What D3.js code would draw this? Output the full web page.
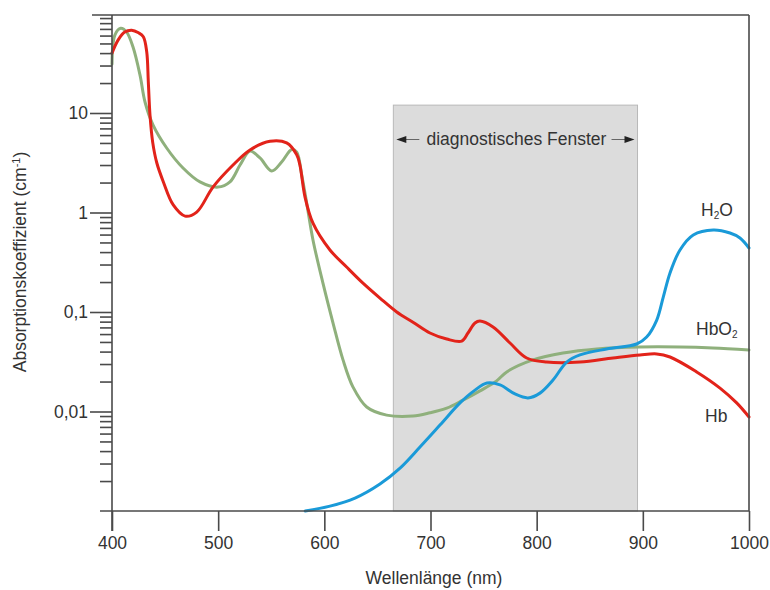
<!DOCTYPE html>
<html>
<head>
<meta charset="utf-8">
<script src="https://cdn.jsdelivr.net/npm/d3@7/dist/d3.min.js"></script>
<style>
  html, body { margin: 0; padding: 0; background: #fff; }
  svg { display: block; font-family: "Liberation Sans", Arial, sans-serif; }
</style>
</head>
<body>
<svg id="chart" width="770" height="590"></svg>
<script>
// ---- Data ----
const hbNm  = [400, 405.7, 412, 418.5, 425, 429.5, 432.7, 434.2, 435.8, 438.3, 442.1, 448.3, 457.7, 468.8, 479.8, 495.1, 514, 530, 548.8, 564.5, 574, 577, 581.8, 589.3, 605.3, 621, 636.4, 652.4, 668.2, 683.5, 699.5, 715.3, 729.4, 735.3, 741.9, 746.6, 758.9, 774.9, 790.6, 809.5, 840.8, 871.9, 897.3, 913.1, 925.6, 950.7, 972.7, 988.4, 1000];
const hbVal = [40, 54, 65, 68, 64, 58.5, 41.3, 20.6, 9.5, 5.1, 3.18, 2.04, 1.19, 0.92, 1.01, 1.80, 3.0, 4.25, 5.2, 5.0, 3.8, 3.0, 1.43, 0.78, 0.42, 0.283, 0.195, 0.138, 0.10, 0.079, 0.0615, 0.0535, 0.051, 0.0615, 0.0775, 0.081, 0.0707, 0.0488, 0.0345, 0.0314, 0.0314, 0.0345, 0.037, 0.0379, 0.0353, 0.025, 0.0172, 0.0122, 0.0088];

const hbo2Nm  = [400, 402.8, 408.2, 413.8, 419.8, 426.4, 431.1, 438.6, 451.5, 466.9, 482.9, 499.8, 511.1, 520.6, 530, 539.4, 550.4, 559.8, 569.3, 574, 578.7, 583.4, 589.3, 598.7, 608.2, 617.6, 627, 639.9, 658.7, 683.5, 699.5, 715.3, 730.6, 746.6, 762.3, 771.8, 796.5, 824.8, 856.5, 897.3, 935, 966, 1000];
const hbo2Val = [31, 61, 71, 65, 46, 24, 12.9, 7.6, 4.45, 2.8, 2.03, 1.80, 2.03, 3.0, 4.15, 3.53, 2.61, 3.22, 4.3, 4.05, 2.38, 1.24, 0.53, 0.195, 0.0775, 0.033, 0.0176, 0.0111, 0.0092, 0.0090, 0.0097, 0.0108, 0.0130, 0.0161, 0.0203, 0.025, 0.033, 0.0387, 0.0425, 0.0445, 0.0445, 0.0435, 0.0415];

const h2oNm  = [582, 605.3, 628.9, 652.4, 671.3, 690.1, 708.9, 727.8, 741.9, 753.2, 765.5, 779.6, 791.8, 803.1, 815.4, 828.3, 840.8, 865.9, 894.2, 903.6, 913.1, 919.3, 925.6, 935, 947.5, 966.4, 982.1, 991.5, 1000];
const h2oVal = [0.001, 0.00112, 0.00135, 0.00187, 0.0027, 0.0044, 0.0073, 0.0122, 0.0164, 0.0193, 0.0185, 0.015, 0.0137, 0.0153, 0.0207, 0.0314, 0.037, 0.0425, 0.0477, 0.056, 0.083, 0.142, 0.247, 0.42, 0.594, 0.667, 0.622, 0.555, 0.44];

const xTicks = [400, 500, 600, 700, 800, 900, 1000];
const yMajorTicks = [10, 1, 0.1, 0.01];
const yMajorLabels = ["10", "1", "0,1", "0,01"];
const windowRange = [665, 895];   // nm
const windowTop = 12;             // cm^-1

// ---- Scales ----
const svg = d3.select("#chart");
const x = d3.scaleLinear().domain([400, 1000]).range([112, 749]);
const y = d3.scaleLog().domain([0.001, 100]).range([511, 13.5]);

const axisColor = "#4a4a4a";
const textColor = "#333";
const fs = 17.5;

// diagnostic window
svg.append("rect")
  .attr("x", x(windowRange[0])).attr("y", y(windowTop))
  .attr("width", x(windowRange[1]) - x(windowRange[0]))
  .attr("height", y(0.001) - y(windowTop))
  .attr("fill", "#dcdcdc").attr("stroke", "#b8b8b8").attr("stroke-width", 1);

// window label with arrows
const arrowY = 139.5;
const wx0 = x(windowRange[0]), wx1 = x(windowRange[1]);
svg.append("text").attr("x", (wx0 + wx1) / 2 + 1).attr("y", 145)
  .attr("text-anchor", "middle").attr("font-size", fs).attr("fill", textColor)
  .text("diagnostisches Fenster");
svg.append("line").attr("x1", wx0 + 12).attr("x2", wx0 + 26).attr("y1", arrowY).attr("y2", arrowY)
  .attr("stroke", "#666").attr("stroke-width", 1);
svg.append("path").attr("d", `M${wx0 + 3},${arrowY} L${wx0 + 13},${arrowY - 3.5} L${wx0 + 13},${arrowY + 3.5} Z`).attr("fill", "#222");
svg.append("line").attr("x1", wx1 - 26).attr("x2", wx1 - 12).attr("y1", arrowY).attr("y2", arrowY)
  .attr("stroke", "#666").attr("stroke-width", 1);
svg.append("path").attr("d", `M${wx1 - 3},${arrowY} L${wx1 - 13},${arrowY - 3.5} L${wx1 - 13},${arrowY + 3.5} Z`).attr("fill", "#222");

// ---- Curves ----
const line = d3.line().x(d => x(d[0])).y(d => y(d[1])).curve(d3.curveCatmullRom.alpha(0.5));
const series = [
  { nm: hbo2Nm, val: hbo2Val, color: "#8fb07c" },
  { nm: hbNm, val: hbVal, color: "#e2231a" },
  { nm: h2oNm, val: h2oVal, color: "#1a9ad8" }
];
series.forEach(s => {
  svg.append("path")
    .datum(d3.zip(s.nm, s.val))
    .attr("d", line)
    .attr("fill", "none").attr("stroke", s.color)
    .attr("stroke-width", 3).attr("stroke-linejoin", "round").attr("stroke-linecap", "round");
});

// ---- Axes ----
// frame top + right
svg.append("line").attr("x1", 92).attr("x2", 749).attr("y1", 15).attr("y2", 15)
  .attr("stroke", axisColor).attr("stroke-width", 1.6);
svg.append("line").attr("x1", 749).attr("x2", 749).attr("y1", 15).attr("y2", 511)
  .attr("stroke", axisColor).attr("stroke-width", 1.6);

// minor y ticks
const minorTicks = [];
[0.001, 0.01, 0.1, 1, 10].forEach(d => { for (let k = 2; k <= 9; k++) minorTicks.push(d * k); });
const gMinor = svg.append("g").attr("transform", "translate(112,0)")
  .call(d3.axisLeft(y).tickValues(minorTicks).tickSize(12).tickFormat(""));
// major y ticks
const gMajor = svg.append("g").attr("transform", "translate(112,0)")
  .call(d3.axisLeft(y).tickValues(yMajorTicks).tickSize(22).tickPadding(2)
    .tickFormat((d, i) => yMajorLabels[i]));
[gMinor, gMajor].forEach(g => {
  g.select(".domain").remove();
  g.selectAll(".tick line").attr("stroke", axisColor).attr("stroke-width", 1.6);
});
gMajor.selectAll(".tick text").attr("font-size", fs).attr("fill", textColor)
  .attr("font-family", "Liberation Sans, Arial, sans-serif");

// left axis line (extends below bottom)
svg.append("line").attr("x1", 112).attr("x2", 112).attr("y1", 15).attr("y2", 531)
  .attr("stroke", axisColor).attr("stroke-width", 1.6);

// x axis
const gx = svg.append("g").attr("transform", "translate(0,511)")
  .call(d3.axisBottom(x).tickValues(xTicks).tickSize(20).tickPadding(6).tickFormat(d3.format("d")));
gx.select(".domain").remove();
gx.selectAll(".tick line").attr("stroke", axisColor).attr("stroke-width", 1.6);
gx.selectAll(".tick text").attr("font-size", fs).attr("fill", textColor)
  .attr("font-family", "Liberation Sans, Arial, sans-serif");
svg.append("line").attr("x1", 100).attr("x2", 749).attr("y1", 511).attr("y2", 511)
  .attr("stroke", axisColor).attr("stroke-width", 1.6);

// axis titles
svg.append("text").attr("x", 434).attr("y", 584).attr("text-anchor", "middle")
  .attr("font-size", fs).attr("fill", textColor).text("Wellenlänge (nm)");
const yt = svg.append("text").attr("transform", "translate(26,262) rotate(-90)")
  .attr("text-anchor", "middle").attr("font-size", fs).attr("fill", textColor);
yt.append("tspan").text("Absorptionskoeffizient (cm");
yt.append("tspan").attr("font-size", 11).attr("dy", -6).text("-1");
yt.append("tspan").attr("dy", 6).text(")");

// series labels
function subLabel(px, py, main, sub, tail) {
  const t = svg.append("text").attr("x", px).attr("y", py).attr("font-size", fs).attr("fill", textColor);
  t.append("tspan").text(main);
  if (sub) {
    t.append("tspan").attr("font-size", 10).attr("dy", 3).text(sub);
    if (tail) t.append("tspan").attr("dy", -3).text(tail);
  }
}
subLabel(701, 216, "H", "2", "O");
subLabel(696, 335, "HbO", "2", "");
subLabel(705, 422, "Hb", "", "");
</script>
</body>
</html>
